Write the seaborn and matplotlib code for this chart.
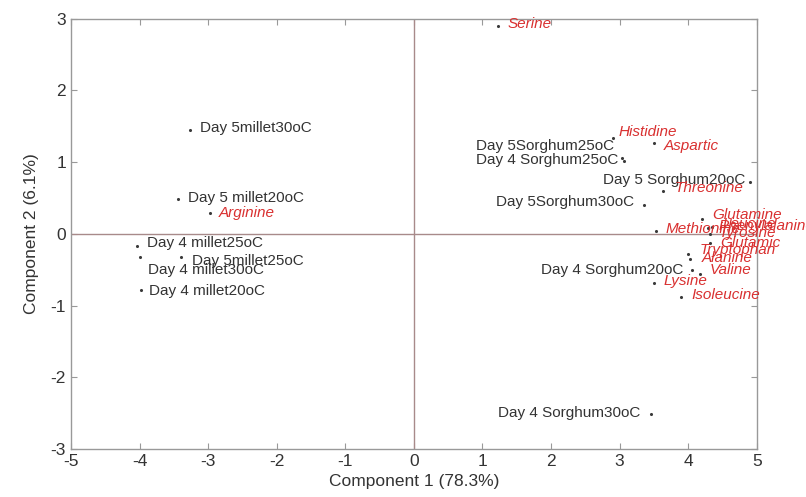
import matplotlib
matplotlib.use("Agg")
import matplotlib.pyplot as plt
import seaborn as sns
import pandas as pd

# ---- data (scores for samples, loadings for amino acids) ----
sample_names = ["Day 5millet30oC", "Day 5 millet20oC", "Day 4 millet25oC",
                "Day 4 millet30oC", "Day 5millet25oC", "Day 4 millet20oC",
                "Day 5Sorghum25oC", "Day 4 Sorghum25oC", "Day 5 Sorghum20oC",
                "Day 5Sorghum30oC", "Day 4 Sorghum20oC", "Day 4 Sorghum30oC"]
sample_pc1 = [-3.27, -3.44, -4.04, -4.00, -3.40, -3.98,
              3.03, 3.07, 4.90, 3.35, 4.05, 3.45]
sample_pc2 = [1.45, 0.48, -0.17, -0.32, -0.32, -0.79,
              1.06, 1.01, 0.72, 0.40, -0.50, -2.51]

var_names = ["Serine", "Histidine", "Aspartic", "Threonine", "Arginine",
             "Glutamine", "Methionine", "Leucine", "Phenylalanine", "Tyrosine",
             "Glutamic", "Tryptophan", "Alanine", "Valine", "Lysine", "Isoleucine"]
var_pc1 = [1.22, 2.90, 3.50, 3.63, -2.97, 4.20, 3.53, 4.35, 4.29, 4.32,
           4.32, 3.99, 4.02, 4.17, 3.50, 3.89]
var_pc2 = [2.90, 1.33, 1.27, 0.59, 0.29, 0.21, 0.04, 0.10, 0.08, 0.00,
           -0.13, -0.28, -0.35, -0.56, -0.68, -0.88]

x_ticks = [-5, -4, -3, -2, -1, 0, 1, 2, 3, 4, 5]
y_ticks = [-3, -2, -1, 0, 1, 2, 3]
x_label = "Component 1 (78.3%)"
y_label = "Component 2 (6.1%)"

# ---- label placement (pixels offset, alignment) ----
sample_offsets = [(10, 2, "left"), (10, 1, "left"), (10, 3, "left"),
                  (8, -13, "left"), (11, -4, "left"), (8, -1, "left"),
                  (-8, 12, "right"), (-6, 1, "right"), (-5, 2, "right"),
                  (-10, 3, "right"), (-8, 0, "right"), (-10, 1, "right")]
var_offsets = [(10, 2), (6, 6), (10, -3), (12, 3), (9, 0), (10, 4), (10, 2),
               (10, 3), (10, 2), (8, 1), (10, 0), (12, 4), (12, 1), (10, 4),
               (10, 2), (11, 2)]

sns.set_theme(style="white")
plt.rcParams["font.family"] = ["Liberation Sans", "DejaVu Sans"]

fig = plt.figure(figsize=(8.06, 4.97), dpi=100)
ax = fig.add_axes([0.088, 0.0966, 0.851, 0.866])

df_s = pd.DataFrame({"pc1": sample_pc1, "pc2": sample_pc2, "name": sample_names})
df_v = pd.DataFrame({"pc1": var_pc1, "pc2": var_pc2, "name": var_names})
allpts = pd.concat([df_s, df_v], ignore_index=True)

ax.axhline(0, color="#a88a8a", lw=1.0, zorder=1)
ax.axvline(0, color="#a88a8a", lw=1.0, zorder=1)

sns.scatterplot(data=allpts, x="pc1", y="pc2", color="#3a3a3a", s=5,
                linewidth=0, ax=ax, legend=False, zorder=3)

for (nm, x, y), (dx, dy, ha) in zip(zip(sample_names, sample_pc1, sample_pc2), sample_offsets):
    ax.annotate(nm, (x, y), xytext=(dx, dy), textcoords="offset pixels",
                ha=ha, va="center", fontsize=11, color="#333333",
                annotation_clip=False)

for (nm, x, y), (dx, dy) in zip(zip(var_names, var_pc1, var_pc2), var_offsets):
    ax.annotate(nm, (x, y), xytext=(dx, dy), textcoords="offset pixels",
                ha="left", va="center", fontsize=11, color="#d93030",
                style="italic", annotation_clip=False)

ax.set_xlim(-5, 5)
ax.set_ylim(-3, 3)
ax.set_xticks(x_ticks)
ax.set_yticks(y_ticks)
ax.set_xticklabels([str(t) for t in x_ticks])
ax.set_yticklabels([str(t) for t in y_ticks])
ax.tick_params(direction="in", length=4, width=0.8, colors="#999999",
               labelcolor="#333333", labelsize=12.5, top=True, right=True,
               bottom=True, left=True)
for sp in ax.spines.values():
    sp.set_color("#999999")
    sp.set_linewidth(1.0)
ax.set_xlabel(x_label, fontsize=12.5, color="#333333", labelpad=4)
ax.set_ylabel(y_label, fontsize=12.5, color="#333333", labelpad=8)

fig.savefig("out.png", dpi=100)
